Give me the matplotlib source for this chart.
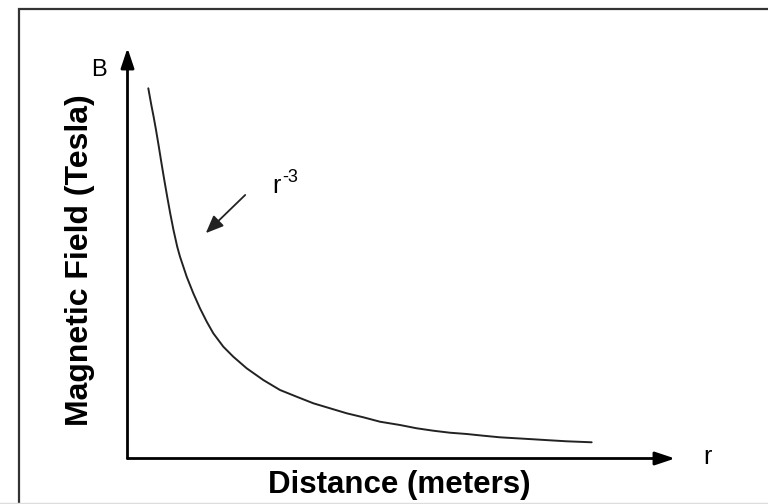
import matplotlib.pyplot as plt
from matplotlib.patches import Rectangle

plt.rcParams['font.family'] = ['Liberation Sans', 'DejaVu Sans']

# curve (arbitrary units, axes run 0..10)
r_vals = [0.38, 0.435, 0.477, 0.521, 0.572, 0.621, 0.672, 0.725, 0.78, 0.84,
          0.908, 0.959, 1.081, 1.202, 1.324, 1.447, 1.567, 1.75, 1.932, 2.177,
          2.48, 2.785, 3.09, 3.394, 3.699, 4.004, 4.307, 4.612, 4.977, 5.282,
          5.585, 5.89, 6.195, 6.499, 6.804, 7.109, 7.412, 7.717, 8.022, 8.478]
b_vals = [9.018, 8.612, 8.326, 8.002, 7.596, 7.191, 6.784, 6.378, 5.973, 5.566,
          5.16, 4.916, 4.429, 4.024, 3.659, 3.333, 3.05, 2.724, 2.48, 2.197,
          1.912, 1.669, 1.505, 1.345, 1.223, 1.101, 1.004, 0.896, 0.816, 0.736,
          0.677, 0.628, 0.597, 0.555, 0.516, 0.492, 0.468, 0.443, 0.419, 0.395]

x_label = 'Distance (meters)'
y_label = 'Magnetic Field (Tesla)'

W, H = 768, 504
fig = plt.figure(figsize=(W / 100, H / 100), dpi=100)

# outer frame (cut off on the right and bottom)
fig.patches.append(Rectangle((19 / W, -0.2), 1.2, (H - 9) / H + 0.2,
                             transform=fig.transFigure, fill=False,
                             edgecolor='#333333', lw=1.6))
fig.lines.append(plt.Line2D([0, 1], [1.5 / H, 1.5 / H], transform=fig.transFigure,
                            color='#dddddd', lw=1))

ax = fig.add_axes([127.5 / W, (H - 458.5) / H, 547.5 / W, 410.5 / H])
ax.set_xlim(0, 10)
ax.set_ylim(0, 10)
ax.axis('off')

# axes with arrow heads
axis_style = '-|>,head_length=0.6,head_width=0.2'
ax.annotate('', xy=(0, 10), xytext=(0, 0), annotation_clip=False,
            arrowprops=dict(arrowstyle=axis_style, lw=2, color='black',
                            mutation_scale=20, shrinkA=0, shrinkB=0))
ax.annotate('', xy=(10, 0), xytext=(0, 0), annotation_clip=False,
            arrowprops=dict(arrowstyle=axis_style, lw=2, color='black',
                            mutation_scale=20, shrinkA=0, shrinkB=0))

ax.plot(r_vals, b_vals, color='#222222', lw=1.4, solid_capstyle='round',
        solid_joinstyle='round')

# r^-3 pointer
ax.annotate('', xy=(1.43, 5.49), xytext=(2.15, 6.42),
            arrowprops=dict(arrowstyle='-|>,head_length=0.6,head_width=0.25',
                            lw=1.3, color='#222222', mutation_scale=18,
                            shrinkA=0, shrinkB=0))
ax.text(2.64, 6.47, 'r', fontsize=18, ha='left', va='baseline')
ax.annotate('-3', xy=(2.64, 6.47), xytext=(7, 8), textcoords='offset points',
            fontsize=13, ha='left', va='baseline')

fig.text(99 / W, (H - 70) / H, 'B', fontsize=17, ha='center', va='center')
fig.text(703 / W, (H - 464) / H, 'r', fontsize=18, ha='left', va='baseline')

fig.text(399 / W, (H - 493) / H, x_label, fontsize=22.5, fontweight='bold',
         ha='center', va='baseline')
fig.text(80.5 / W, (H - 260) / H, y_label, fontsize=23, fontweight='bold',
         rotation=90, ha='center', va='center')

fig.savefig('out.png', dpi=100)
